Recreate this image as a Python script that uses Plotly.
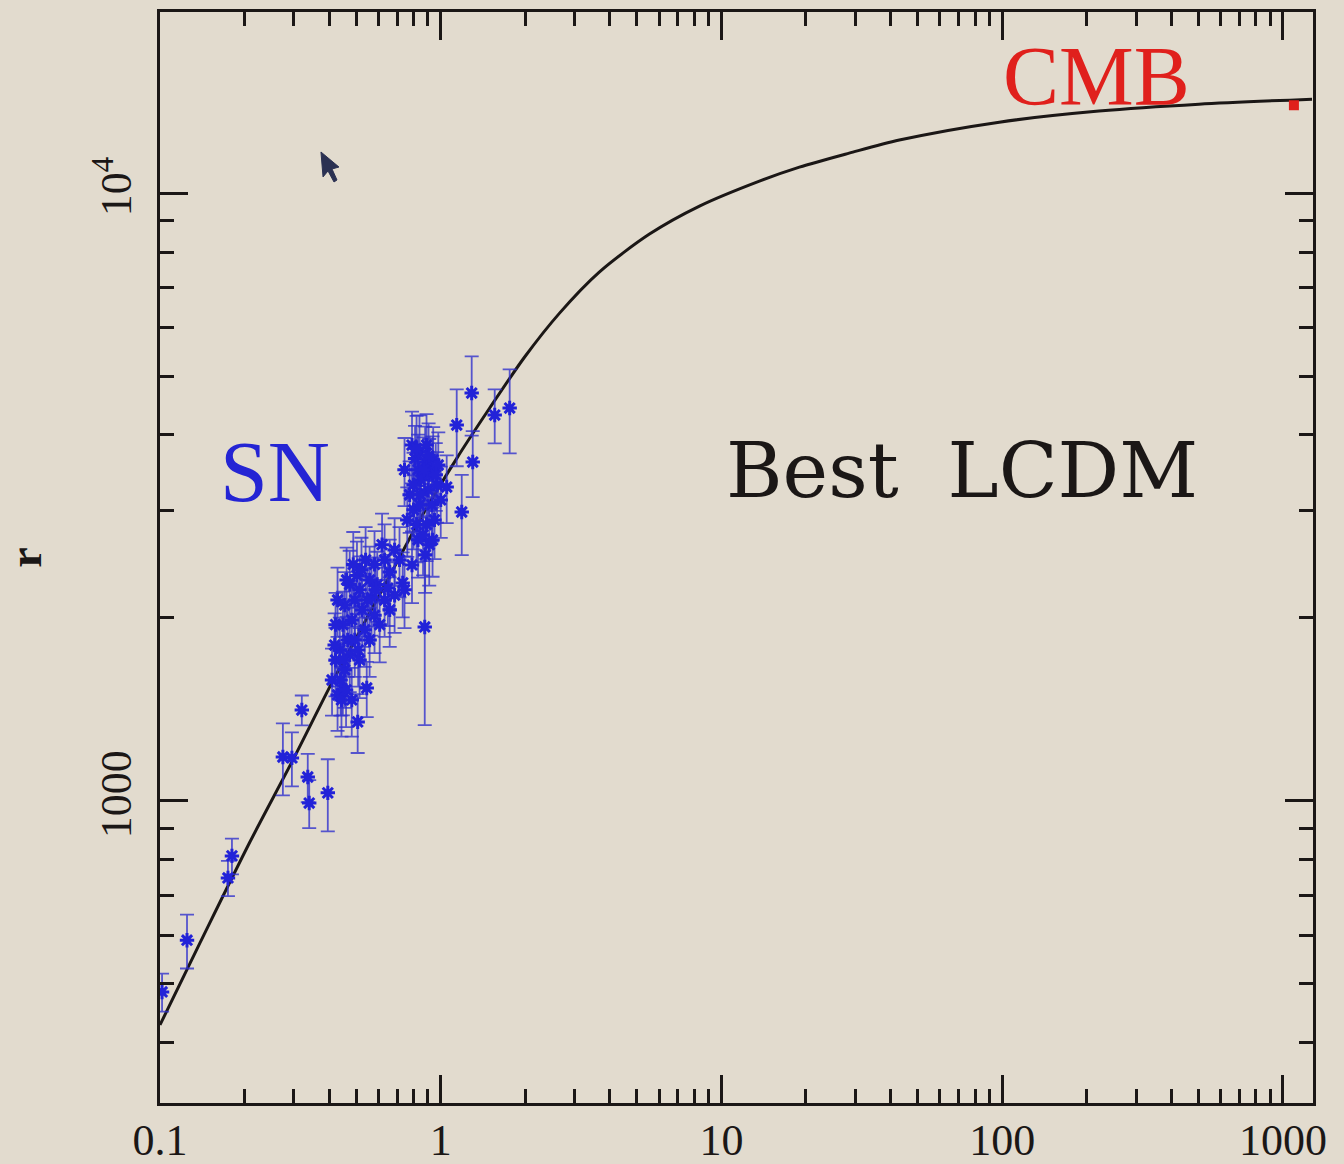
import plotly.graph_objects as go

# Supernova comoving distances r (Mpc) against redshift z, with 1-sigma errors
sn_z = [0.1017, 0.1248, 0.1804, 0.1746, 0.274, 0.295, 0.320, 0.336, 0.340, 0.396,
        0.506, 0.545, 0.448, 0.877, 0.732, 1.05, 1.188, 1.30, 1.14, 1.289,
        1.557, 1.76, 0.935,
        0.79, 0.81, 0.83, 0.84, 0.85, 0.88, 0.89, 0.90, 0.91, 0.93,
        0.94, 0.95, 0.97, 0.80, 0.82, 0.83, 0.865, 0.88, 0.91, 0.775,
        0.79, 0.98, 1.0, 0.76, 0.84,
        0.743, 0.82, 0.87, 0.905, 0.96, 0.80, 0.845, 0.89, 0.935,
        0.713, 0.685, 0.658, 0.631, 0.618, 0.594, 0.581, 0.567, 0.558, 0.54,
        0.525, 0.514, 0.503, 0.494, 0.482, 0.474, 0.466, 0.455, 0.448, 0.437,
        0.429, 0.422, 0.455, 0.474, 0.494, 0.514, 0.536, 0.558, 0.581, 0.606,
        0.631, 0.658, 0.685, 0.743, 0.41, 0.429, 0.443, 0.419, 0.46, 0.482,
        0.462, 0.488, 0.522, 0.548, 0.586, 0.648, 0.451, 0.508, 0.422, 0.44]
sn_r = [485, 590, 812, 747, 1181, 1177, 1411, 1095, 992, 1031,
        1349, 1534, 1523, 1933, 2284, 3284, 2988, 3610, 4153, 4689,
        4314, 4430, 3530,
        3850, 3660, 3505, 3750, 3374, 3610, 3850, 3250, 3440, 3070,
        3640, 2900, 3310, 3013, 2850, 2690, 2740, 2540, 2640, 3190,
        2445, 3570, 3128, 2900, 3070,
        3505, 3800, 3505, 3700, 3440, 3310, 3190, 2850, 2688,
        2492, 2588, 2380, 2492, 2640, 2270, 2450, 2160, 2310, 2492,
        2062, 2225, 2350, 2141, 1985, 2270, 1840, 2100, 1950, 1772,
        2141, 1706, 1643, 1740, 1840, 1706, 1912, 1840, 2020, 1950,
        2141, 2062, 2180, 2225, 1581, 1494, 1466, 1805, 1523, 1466,
        2310, 2450, 2400, 2141, 2225, 2240, 1706, 1772, 1950, 1581]
sn_err = [35, 60, 55, 50, 160, 120, 80, 100, 90, 140,
          150, 160, 140, 600, 280, 420, 450, 450, 600, 700,
          440, 700, 450,
          520, 480, 500, 560, 450, 520, 480, 420, 500, 400,
          480, 400, 440, 420, 380, 360, 390, 340, 380, 430,
          330, 470, 420, 380, 400,
          450, 500, 460, 480, 440, 430, 410, 370, 350,
          330, 330, 310, 360, 330, 300, 330, 290, 310, 330,
          270, 300, 320, 290, 260, 310, 240, 280, 260, 230,
          280, 220, 220, 230, 240, 230, 250, 240, 270, 260,
          280, 270, 290, 300, 200, 190, 190, 230, 200, 190,
          300, 320, 310, 280, 290, 300, 220, 230, 250, 200]

# Best-fit LCDM distance curve
lcdm_z = [0.1, 0.1388, 0.209, 0.2975, 0.4128, 0.502, 0.675, 0.861, 1.142, 1.494,
          1.99, 2.65, 3.67, 5.54, 8.35, 13.65, 18.95, 28.5, 43.0, 97.6,
          221, 502, 1269]
lcdm_r = [428, 584, 856, 1168, 1576, 1861, 2399, 2954, 3665, 4430,
          5375, 6347, 7414, 8562, 9520, 10465, 11035, 11635, 12227, 13085,
          13645, 14009, 14275]

# CMB last-scattering distance
cmb_z = [1094]
cmb_r = [13950]

x_ticks = [0.1, 1, 10, 100, 1000]
x_ticktext = ["0.1", "1", "10", "100", "1000"]
y_ticks = [1000, 10000]
y_ticktext = ["1000", "10<sup>4</sup>"]

INK = "#1b1716"
BG = "#e2dbce"
SERIF = "Liberation Serif"

x_minor = [k * 10 ** d for d in range(-1, 4) for k in range(2, 10) if k * 10 ** d < 1280]
y_minor = [k * 10 ** d for d in range(2, 5) for k in range(2, 10) if 318 < k * 10 ** d < 19900]

fig = go.Figure()

fig.add_trace(go.Scatter(
    x=lcdm_z, y=lcdm_r, mode="lines", line=dict(color=INK, width=3, shape="spline", smoothing=0.8),
    hoverinfo="skip", showlegend=False,
))

fig.add_trace(go.Scatter(
    x=sn_z, y=sn_r, mode="markers",
    marker=dict(symbol="asterisk-open", size=12, color="#2222d8", line=dict(color="#2222d8", width=3)),
    error_y=dict(type="data", array=sn_err, visible=True, color="rgba(50,50,205,0.8)", thickness=1.8, width=7),
    showlegend=False,
))

fig.add_trace(go.Scatter(
    x=cmb_z, y=cmb_r, mode="markers",
    marker=dict(symbol="square", size=10, color="#e0201c"),
    showlegend=False,
))

axis_common = dict(
    type="log", showline=True, linecolor=INK, linewidth=3, mirror="allticks",
    ticks="inside", ticklen=28, tickwidth=2.5, tickcolor=INK,
    showgrid=False, zeroline=False,
    tickfont=dict(family=SERIF, size=44, color=INK),
)

fig.update_xaxes(
    **axis_common, range=[-1, 3.107], tickmode="array", tickvals=x_ticks, ticktext=x_ticktext,
    ticklabelstandoff=-4,
    minor=dict(tickmode="array", tickvals=x_minor, ticks="inside", ticklen=14, tickwidth=2.5, tickcolor=INK, showgrid=False),
)
fig.update_yaxes(
    **axis_common, range=[2.503, 4.298], tickmode="array", tickvals=y_ticks, ticktext=y_ticktext,
    tickangle=-90, ticklabelstandoff=8,
    minor=dict(tickmode="array", tickvals=y_minor, ticks="inside", ticklen=14, tickwidth=2.5, tickcolor=INK, showgrid=False),
    title=dict(text="<b>r</b>", font=dict(family=SERIF, size=46, color=INK), standoff=40),
)

fig.add_annotation(x=-0.591, y=3.541, xref="x", yref="y", text="SN", showarrow=False,
                   font=dict(family=SERIF, size=86, color="#2424d4"))
fig.add_annotation(x=1.858, y=3.543, xref="x", yref="y", text="Best\u00a0\u00a0LCDM", showarrow=False,
                   font=dict(family="DejaVu Serif", size=77, color=INK))
fig.add_annotation(x=2.336, y=4.192, xref="x", yref="y", text="CMB", showarrow=False,
                   font=dict(family=SERIF, size=84, color="#e0201c"))

# small on-screen pointer glyph in the upper left of the frame
def px(xp, yp):
    return (xp - 160) / 1153, (1103 - yp) / 1091

pts = [px(321, 152), px(323, 177), px(328, 171), px(334, 182), px(337, 180), px(332, 169), px(339, 167)]
path = "M " + " L ".join(f"{a:.4f},{b:.4f}" for a, b in pts) + " Z"
fig.add_shape(type="path", path=path, xref="paper", yref="paper",
              fillcolor="#2b3152", line=dict(color="#2b3152", width=1))

fig.update_layout(
    width=1344, height=1164,
    margin=dict(l=160, r=31, t=12, b=61, autoexpand=False),
    paper_bgcolor=BG, plot_bgcolor=BG,
)

fig.write_html("out.html")
